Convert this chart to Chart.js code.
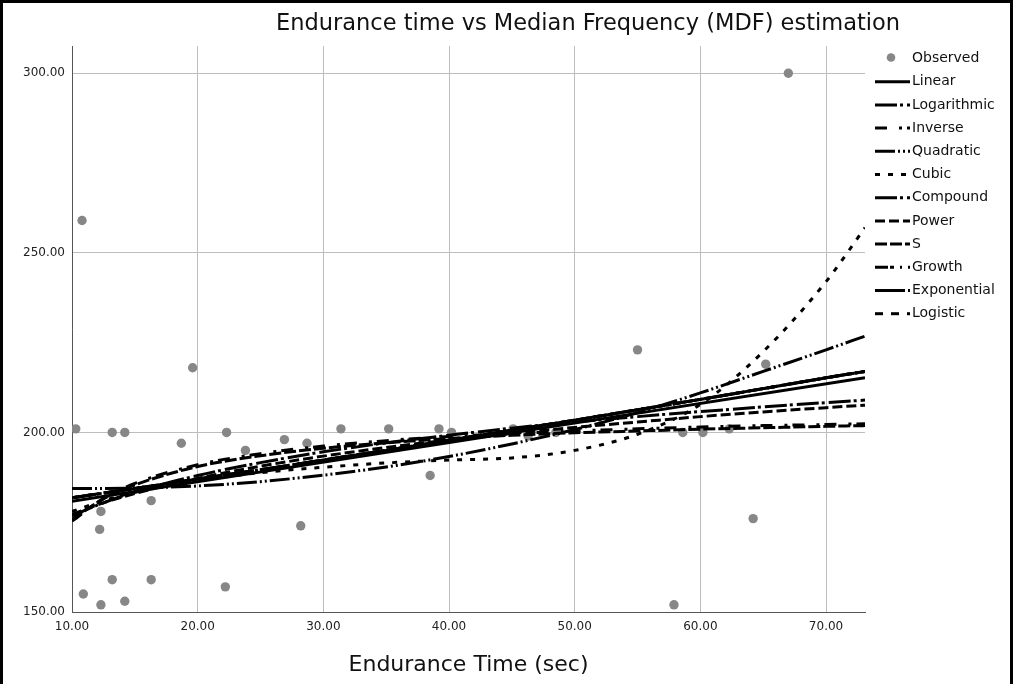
<!DOCTYPE html>
<html>
<head>
<meta charset="utf-8">
<script src="https://cdn.jsdelivr.net/npm/chart.js@4.4.1/dist/chart.umd.min.js"></script>
<style>
  html, body { margin: 0; padding: 0; background: #fff; }
  #wrap { position: relative; width: 1013px; height: 684px; overflow: hidden; }
  #frame { position: absolute; left: 0; top: 0; width: 1013px; height: 700px; box-sizing: border-box;
           border: 3px solid #000; border-bottom: none; pointer-events: none; }
</style>
</head>
<body>
<div id="wrap">
  <canvas id="chart" width="1013" height="684"></canvas>
  <div id="frame"></div>
</div>
<script>
// Observed points (Endurance time vs MDF)
const obsX = [10.3, 10.8, 10.9, 12.2, 12.3, 12.3, 13.2, 13.2, 14.2, 14.2, 16.3, 16.3, 18.7, 19.6, 22.2, 22.3, 23.8, 26.9,
              28.2, 28.7, 31.4, 35.2, 38.5, 39.2, 40.2, 45.1, 46.3, 48.5, 55.0, 57.9, 58.6, 60.2, 62.3, 64.2, 65.2, 67.0];
const obsY = [201, 259, 155, 173, 178, 152, 200, 159, 200, 153, 181, 159, 197, 218, 157, 200, 195, 198,
              174, 197, 201, 201, 188, 201, 200, 201, 199, 200, 223, 152, 200, 200, 201, 176, 219, 300];

// Fitted curves
const curveX = [10, 12.5, 15, 20, 25, 30, 35, 40, 45, 50, 55, 60, 65, 70, 73.1];
const linX = [10, 73.1];
const linY = [180.8, 215.2];
const logY = [176.8, 180.4, 183.4, 188.0, 191.6, 194.6, 197.1, 199.2, 201.2, 202.9, 204.4, 205.8, 207.1, 208.3, 209.0];
const invY = [175.3, 181.6, 185.8, 191.0, 194.1, 196.2, 197.7, 198.9, 199.7, 200.4, 201.0, 201.5, 201.9, 202.2, 202.4];
const quadY = [184.4, 184.4, 184.5, 185.1, 186.3, 188.1, 190.4, 193.3, 196.8, 200.8, 205.5, 211.0, 217.0, 223.0, 226.8];
const cubY = [178.0, 181.0, 183.3, 186.5, 188.8, 190.3, 191.5, 192.3, 192.9, 195.0, 199.5, 207.8, 222.5, 242.0, 257.0];
// compound, growth, exponential and logistic give the same curve
const expY = [181.8, 183.1, 184.4, 187.0, 189.6, 192.3, 195.0, 197.8, 200.6, 203.4, 206.3, 209.2, 212.2, 215.2, 217.0];
const powY = [177.2, 180.4, 183.0, 187.2, 190.6, 193.4, 195.8, 197.9, 199.7, 201.4, 202.9, 204.4, 205.7, 206.9, 207.6];
const sY = [175.8, 181.5, 185.4, 190.5, 193.5, 195.6, 197.1, 198.3, 199.2, 199.9, 200.4, 200.9, 201.3, 201.7, 201.9];

const xTicks = [10, 20, 30, 40, 50, 60, 70];
const yTicks = [150, 200, 250, 300];
const chartTitle = 'Endurance time vs Median Frequency (MDF) estimation';

Chart.defaults.font.family = '"DejaVu Sans"';

function toPts(xs, ys) {
  return xs.map((x, i) => ({ x: x, y: ys[i] }));
}

function curve(label, xs, ys, dash) {
  return {
    label: label,
    data: toPts(xs, ys),
    showLine: true,
    borderColor: '#000',
    backgroundColor: '#000',
    borderWidth: 3,
    borderDash: dash,
    borderCapStyle: 'butt',
    pointRadius: 0,
    cubicInterpolationMode: 'monotone',
    fill: false,
    order: 0
  };
}

const datasets = [
  {
    label: 'Observed',
    data: toPts(obsX, obsY),
    pointRadius: 4.7,
    pointBackgroundColor: '#878787',
    pointBorderWidth: 0,
    showLine: false,
    order: 1
  },
  curve('Linear', linX, linY, []),
  curve('Logarithmic', curveX, logY, [22, 3, 3, 4]),
  curve('Inverse', curveX, invY, [12, 12, 3, 5]),
  curve('Quadratic', curveX, quadY, [20, 3, 2, 3, 2, 3]),
  curve('Cubic', curveX, cubY, [5, 8]),
  curve('Compound', curveX, expY, [22, 3, 3, 4]),
  curve('Power', curveX, powY, [10, 4]),
  curve('S', curveX, sY, [12, 3]),
  curve('Growth', curveX, expY, [13, 2, 4, 6, 2, 6]),
  curve('Exponential', curveX, expY, [30, 3, 2, 3]),
  curve('Logistic', curveX, expY, [8, 8])
];

// title drawn over plot + legend
const titlePlugin = {
  id: 'topTitle',
  afterDraw(chart) {
    const ctx = chart.ctx;
    ctx.save();
    ctx.font = '22.5px "DejaVu Sans"';
    ctx.fillStyle = '#111';
    ctx.textAlign = 'center';
    ctx.textBaseline = 'middle';
    ctx.fillText(chartTitle, 588, 24);
    ctx.restore();
  }
};

// legend in SPSS style: line samples with each dash pattern
const legendPlugin = {
  id: 'sideLegend',
  afterDraw(chart) {
    const ctx = chart.ctx;
    const left = chart.chartArea.right + 10;
    ctx.save();
    ctx.font = '14px "DejaVu Sans"';
    ctx.textBaseline = 'middle';
    ctx.fillStyle = '#111';
    chart.data.datasets.forEach((ds, i) => {
      const y = 58.5 + i * 23.2;
      if (ds.showLine) {
        ctx.save();
        ctx.strokeStyle = ds.borderColor;
        ctx.lineWidth = ds.borderWidth;
        ctx.setLineDash(ds.borderDash);
        ctx.lineCap = 'butt';
        ctx.beginPath();
        ctx.moveTo(left, y);
        ctx.lineTo(left + 35, y);
        ctx.stroke();
        ctx.restore();
      } else {
        ctx.save();
        ctx.fillStyle = ds.pointBackgroundColor;
        ctx.beginPath();
        ctx.arc(left + 16, y - 1, 4.3, 0, Math.PI * 2);
        ctx.fill();
        ctx.restore();
      }
      ctx.fillText(ds.label, left + 37, y);
    });
    ctx.restore();
  }
};

new Chart(document.getElementById('chart'), {
  type: 'scatter',
  data: { datasets: datasets },
  plugins: [titlePlugin, legendPlugin],
  options: {
    responsive: false,
    animation: false,
    devicePixelRatio: 1,
    layout: { padding: { top: 46, left: 0, right: 148, bottom: 0 } },
    plugins: {
      legend: { display: false },
      tooltip: { enabled: false }
    },
    scales: {
      x: {
        type: 'linear',
        min: 10,
        max: 73.1,
        afterFit: s => { s.height = 72; },
        afterBuildTicks: s => { s.ticks = xTicks.map(v => ({ value: v })); },
        ticks: {
          callback: v => v.toFixed(2),
          font: { size: 12 },
          color: '#222',
          padding: 8,
          maxRotation: 0
        },
        grid: { color: '#bdbdbd', lineWidth: 1, drawTicks: false },
        border: { color: '#555', width: 1 },
        title: {
          display: true,
          text: 'Endurance Time (sec)',
          font: { size: 22 },
          color: '#111',
          padding: { top: 0, bottom: 6 }
        }
      },
      y: {
        type: 'linear',
        min: 150,
        max: 307.6,
        afterFit: s => { s.width = 72; },
        afterBuildTicks: s => { s.ticks = yTicks.map(v => ({ value: v })); },
        ticks: {
          callback: v => v.toFixed(2),
          font: { size: 12 },
          color: '#222',
          padding: 7
        },
        grid: { color: '#bdbdbd', lineWidth: 1, drawTicks: false },
        border: { color: '#555', width: 1 }
      }
    }
  }
});
</script>
</body>
</html>
